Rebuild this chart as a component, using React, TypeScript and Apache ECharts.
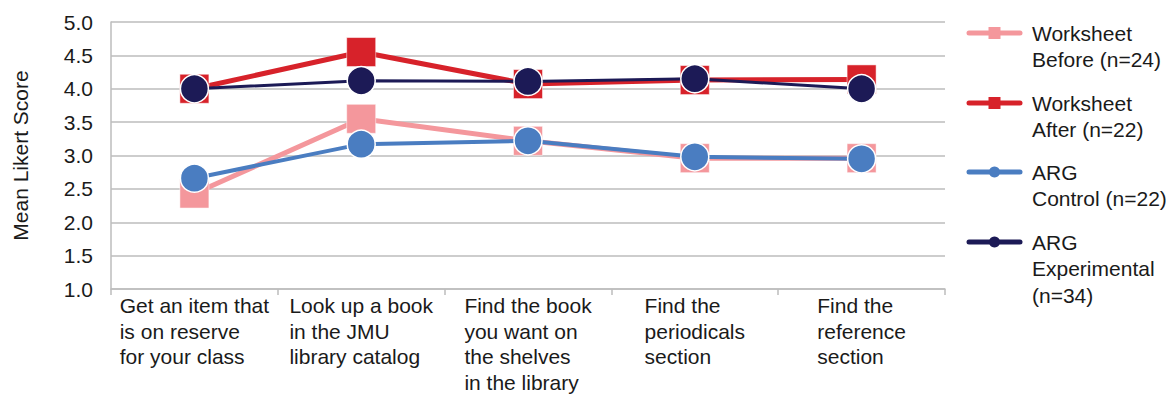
import React, { useEffect, useRef } from "react";
import * as echarts from "echarts";

const categories = [
  "Get an item that\nis on reserve\nfor your class",
  "Look up a book\nin the JMU\nlibrary catalog",
  "Find the book\nyou want on\nthe shelves\nin the library",
  "Find the\nperiodicals\nsection",
  "Find the\nreference\nsection",
];

const seriesNames = [
  "Worksheet\nBefore (n=24)",
  "Worksheet\nAfter (n=22)",
  "ARG\nControl (n=22)",
  "ARG\nExperimental\n(n=34)",
];

const worksheetBefore = [2.43, 3.55, 3.22, 2.96, 2.96];
const worksheetAfter = [4.0, 4.55, 4.07, 4.13, 4.14];
const argControl = [2.66, 3.17, 3.22, 2.98, 2.95];
const argExperimental = [4.0, 4.12, 4.11, 4.15, 4.0];

const yTicks = { min: 1, max: 5, interval: 0.5 };

const colors = ["#F4979C", "#D7222A", "#4A7DC1", "#1C1A56"];
const symbols = ["rect", "rect", "circle", "circle"];
const lineWidths = [5, 5, 4, 3];
const FONT = "'Liberation Sans', Arial, Helvetica, sans-serif";
const TEXT = "#1a1a1a";
const FS = 21;

export default function App() {
  const ref = useRef<HTMLDivElement>(null);
  useEffect(() => {
    if (!ref.current) return;
    const chart = echarts.init(ref.current, undefined, { renderer: "svg" });
    const data = [worksheetBefore, worksheetAfter, argControl, argExperimental];
    const legendY = [25, 95, 164, 234];
    const graphic: any[] = [];
    seriesNames.forEach((name, i) => {
      const y = legendY[i];
      graphic.push({
        type: "line",
        shape: { x1: 961, y1: y, x2: 1012, y2: y },
        style: { stroke: colors[i], lineWidth: 5, lineCap: "round" },
      });
      if (symbols[i] === "rect") {
        graphic.push({
          type: "rect",
          shape: { x: 980.5, y: y - 6, width: 12, height: 12 },
          style: { fill: colors[i] },
        });
      } else {
        graphic.push({
          type: "circle",
          shape: { cx: 986.5, cy: y, r: 5.5 },
          style: { fill: colors[i] },
        });
      }
      graphic.push({
        type: "text",
        x: 1024,
        y: y - 13,
        style: {
          text: name,
          font: `${FS}px ${FONT}`,
          fill: TEXT,
          lineHeight: 26.5,
          verticalAlign: "top",
          align: "left",
        },
      });
    });

    chart.setOption({
      animation: false,
      grid: {
        left: 103,
        right: 221,
        top: 14,
        bottom: 105,
        containLabel: false,
        outerBoundsMode: "none",
      },
      xAxis: {
        type: "category",
        data: categories,
        boundaryGap: true,
        axisLine: { show: true, lineStyle: { color: "#BDBDBD", width: 1.5 } },
        axisTick: { show: true, length: 6, lineStyle: { color: "#BDBDBD", width: 1.5 } },
        axisLabel: {
          interval: 0,
          margin: 4,
          formatter: (v: string) => v.split("\n").map((l) => `{a|${l}}`).join("\n"),
          rich: {
            a: {
              align: "left",
              fontSize: FS,
              lineHeight: 25.5,
              color: TEXT,
              fontFamily: FONT,
            },
          },
        },
      },
      yAxis: {
        type: "value",
        min: yTicks.min,
        max: yTicks.max,
        interval: yTicks.interval,
        name: "Mean Likert Score",
        nameLocation: "middle",
        nameGap: 80,
        nameRotate: 90,
        nameTextStyle: { fontSize: FS, color: TEXT, fontFamily: FONT },
        axisLine: { show: true, lineStyle: { color: "#BDBDBD", width: 1.5 } },
        axisTick: { show: false },
        splitLine: { show: true, lineStyle: { color: "#BDBDBD", width: 1.5 } },
        axisLabel: {
          margin: 18,
          fontSize: FS,
          color: TEXT,
          fontFamily: FONT,
          formatter: (v: number) => v.toFixed(1),
        },
      },
      series: data.map((d, i) => ({
        name: seriesNames[i],
        type: "line",
        data: d,
        symbol: symbols[i],
        symbolSize: symbols[i] === "rect" ? 29 : 28,
        showSymbol: true,
        lineStyle: { color: colors[i], width: lineWidths[i] },
        itemStyle: {
          color: colors[i],
          borderColor: "#ffffff",
          borderWidth: symbols[i] === "rect" ? 0.5 : 1.5,
        },
        z: 2 + i,
      })),
      graphic,
    });
    return () => chart.dispose();
  }, []);
  return <div ref={ref} style={{ width: 1158, height: 386 }} />;
}
